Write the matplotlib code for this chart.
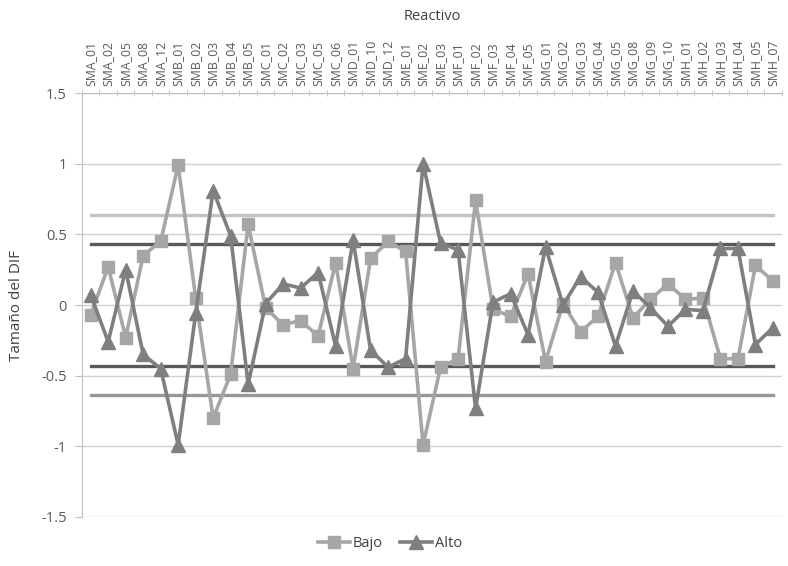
import matplotlib
matplotlib.use("Agg")
import matplotlib.pyplot as plt
import numpy as np

plt.rcParams['font.family'] = ['Open Sans', 'DejaVu Sans']

reactivos = ["SMA_01", "SMA_02", "SMA_05", "SMA_08", "SMA_12",
             "SMB_01", "SMB_02", "SMB_03", "SMB_04", "SMB_05",
             "SMC_01", "SMC_02", "SMC_03", "SMC_05", "SMC_06",
             "SMD_01", "SMD_10", "SMD_12", "SME_01", "SME_02",
             "SME_03", "SMF_01", "SMF_02", "SMF_03", "SMF_04",
             "SMF_05", "SMG_01", "SMG_02", "SMG_03", "SMG_04",
             "SMG_05", "SMG_08", "SMG_09", "SMG_10", "SMH_01",
             "SMH_02", "SMH_03", "SMH_04", "SMH_05", "SMH_07"]

bajo = [-0.07, 0.27, -0.23, 0.35, 0.45, 0.99, 0.05, -0.80, -0.49, 0.57,
        -0.02, -0.14, -0.11, -0.22, 0.30, -0.45, 0.33, 0.45, 0.38, -0.99,
        -0.44, -0.38, 0.74, -0.03, -0.08, 0.22, -0.40, 0.01, -0.19, -0.08,
        0.30, -0.09, 0.04, 0.15, 0.04, 0.05, -0.38, -0.38, 0.28, 0.17]

alto = [0.07, -0.26, 0.25, -0.35, -0.45, -0.99, -0.06, 0.81, 0.49, -0.56,
        0.01, 0.15, 0.12, 0.23, -0.29, 0.46, -0.32, -0.44, -0.38, 1.00,
        0.44, 0.39, -0.73, 0.02, 0.08, -0.21, 0.41, 0.00, 0.20, 0.09,
        -0.29, 0.10, -0.02, -0.15, -0.03, -0.04, 0.40, 0.40, -0.28, -0.16]

# umbrales constantes (lineas horizontales)
umbral_alto_sup = 0.64
umbral_sup = 0.43
umbral_inf = -0.43
umbral_alto_inf = -0.64

fig = plt.figure(figsize=(7.88, 5.66), dpi=100)
ax = fig.add_axes([0.104, 0.0866, 0.888, 0.749])

x = np.arange(len(reactivos))
n = len(reactivos)

ax.plot(x, [umbral_alto_sup] * n, color="#c3c3c3", linewidth=2.4, zorder=2)
ax.plot(x, [umbral_sup] * n, color="#595959", linewidth=2.4, zorder=2)
ax.plot(x, [umbral_inf] * n, color="#595959", linewidth=2.4, zorder=2)
ax.plot(x, [umbral_alto_inf] * n, color="#979797", linewidth=2.4, zorder=2)

ax.plot(x, bajo, color="#a6a6a6", linewidth=2.6, marker="s", markersize=8.5,
        label="Bajo", zorder=3)
ax.plot(x, alto, color="#7f7f7f", linewidth=2.6, marker="^", markersize=10,
        label="Alto", zorder=4)

ax.set_xlim(-0.5, n - 0.5)
ax.set_ylim(-1.5, 1.5)
ax.set_yticks([-1.5, -1, -0.5, 0, 0.5, 1, 1.5])
ax.set_yticklabels(["-1.5", "-1", "-0.5", "0", "0.5", "1", "1.5"])
ax.grid(axis="y", color="#d0d0d0", linewidth=1.0, zorder=0)
ax.set_axisbelow(True)

ax.xaxis.tick_top()
ax.xaxis.set_label_position("top")
ax.set_xticks(x)
ax.set_xticklabels(reactivos, rotation=90, fontsize=8.8, color="#595959")
ax.set_xticks(np.arange(-0.5, n, 1), minor=True)
ax.tick_params(axis="x", which="major", length=0, pad=5)
ax.tick_params(axis="x", which="minor", length=4, direction="inout",
               color="#bfbfbf")
ax.tick_params(axis="y", length=5, color="#bfbfbf", labelsize=10.5,
               labelcolor="#595959", pad=6)

for side in ["right", "bottom"]:
    ax.spines[side].set_visible(False)
ax.spines["left"].set_color("#bfbfbf")
ax.spines["top"].set_color("#bfbfbf")

ax.set_xlabel("Reactivo", fontsize=10.5, color="#404040", labelpad=14)
ax.set_ylabel("Tamaño del DIF", fontsize=11, color="#404040", labelpad=12)

ax.legend(loc="upper center", bbox_to_anchor=(0.44, -0.015), ncol=2,
          frameon=False, fontsize=10.5, handlelength=2.2, columnspacing=1.2,
          handletextpad=0.2, labelcolor="#404040")

fig.savefig("out.png", dpi=100)
